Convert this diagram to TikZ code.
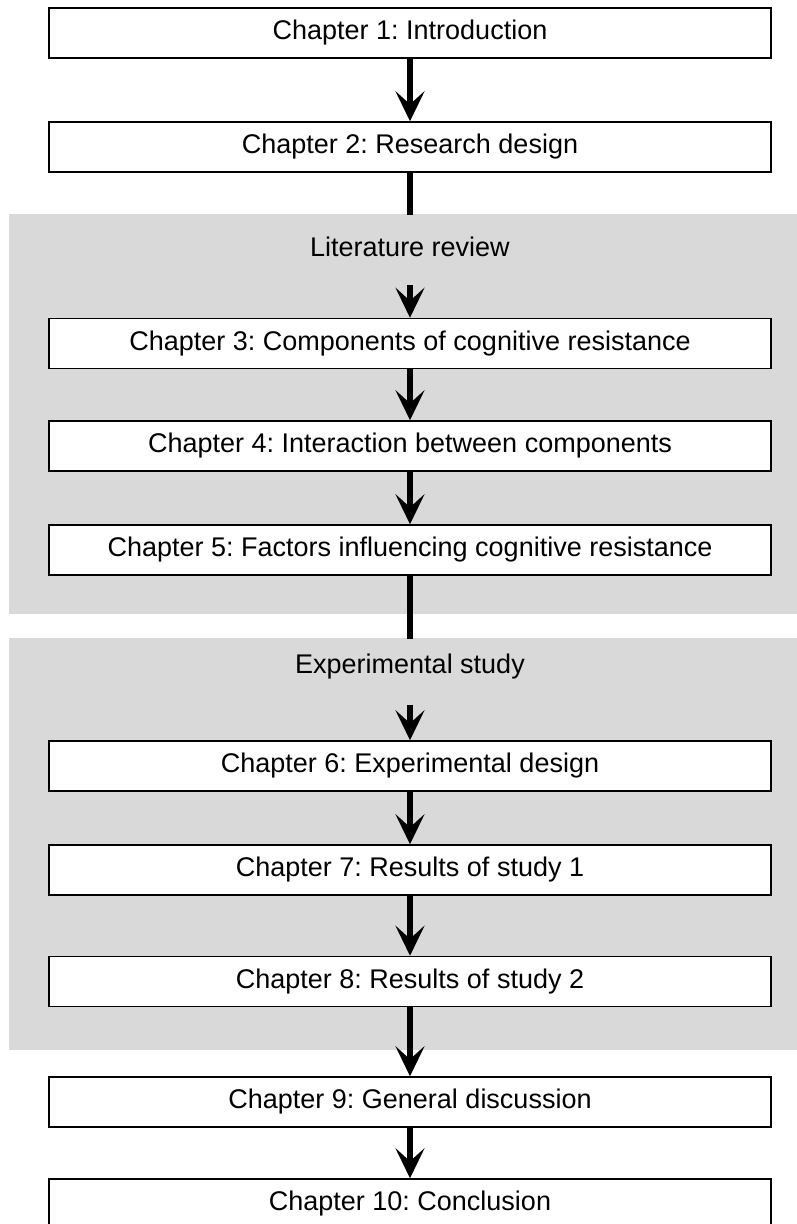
\documentclass[tikz,border=0pt]{standalone}
\usepackage{fontspec}
\setmainfont{Liberation Sans}
\usetikzlibrary{arrows.meta}

\definecolor{panelgray}{RGB}{217,217,217}

\tikzset{
  chapbox/.style={draw=black, line width=1.5pt, fill=white,
    minimum width=722pt, minimum height=50pt, inner sep=0pt,
    font=\fontsize{27}{32}\selectfont\frenchspacing},
  panel/.style={fill=panelgray, draw=none, inner sep=0pt},
  paneltitle/.style={inner sep=0pt, font=\fontsize{27}{32}\selectfont\frenchspacing},
  link/.style={line width=6pt},
  flow/.style={line width=6pt, -{Stealth[length=30pt, width=29pt, inset=13pt]}}
}

\begin{document}
\begin{tikzpicture}[x=1pt, y=-1pt]
  \useasboundingbox (0,0) rectangle (797,1224);

  % grouped parts of the thesis
  \node[panel, minimum width=788pt, minimum height=400pt] (litpanel) at (403,414) {};
  \node[panel, minimum width=788pt, minimum height=412pt] (exppanel) at (403,844) {};

  % chapters
  \node[chapbox] (c1)  at (410,33)    {Chapter 1: Introduction};
  \node[chapbox] (c2)  at (410,147)   {Chapter 2: Research design};
  \node[paneltitle] (littitle) at (410,247) {Literature review};
  \node[chapbox] (c3)  at (410,343.5) {Chapter 3: Components of cognitive resistance};
  \node[chapbox] (c4)  at (410,446)   {Chapter 4: Interaction between components};
  \node[chapbox] (c5)  at (410,550)   {Chapter 5: Factors influencing cognitive resistance};
  \node[paneltitle] (exptitle) at (410,667) {Experimental study};
  \node[chapbox] (c6)  at (410,766)   {Chapter 6: Experimental design};
  \node[chapbox] (c7)  at (410,870)   {Chapter 7: Results of study 1};
  \node[chapbox] (c8)  at (410,981.5) {Chapter 8: Results of study 2};
  \node[chapbox] (c9)  at (410,1102)  {Chapter 9: General discussion};
  \node[chapbox] (c10) at (410,1204)  {Chapter 10: Conclusion};

  \coordinate (litstart) at (410,285);
  \coordinate (expstart) at (410,705);

  % connectors
  \draw[flow] (c1) -- (c2);
  \draw[link] (c2.south) -- ([yshift=-1pt]c2.south |- litpanel.north);
  \draw[flow] (litstart) -- (c3.north);
  \draw[flow] (c3) -- (c4);
  \draw[flow] (c4) -- (c5);
  \draw[link] (c5.south) -- ([yshift=-1pt]c5.south |- exppanel.north);
  \draw[flow] (expstart) -- (c6.north);
  \draw[flow] (c6) -- (c7);
  \draw[flow] (c7) -- (c8);
  \draw[flow] (c8) -- (c9);
  \draw[flow] (c9) -- (c10);
\end{tikzpicture}
\end{document}
